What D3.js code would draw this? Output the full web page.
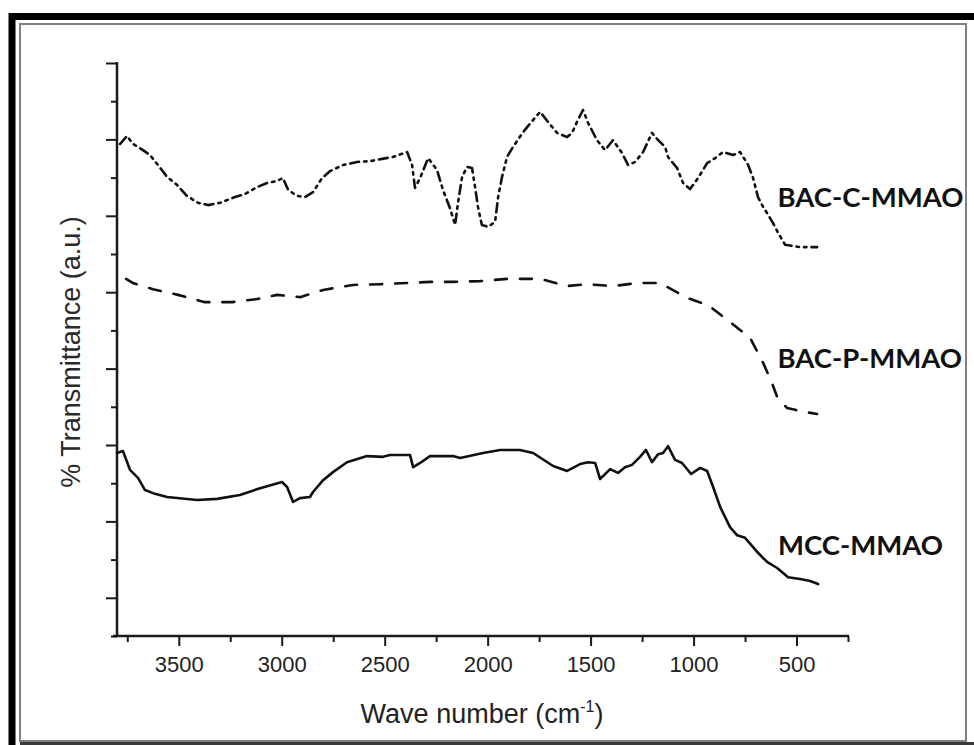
<!DOCTYPE html>
<html>
<head>
<meta charset="utf-8">
<script src="https://cdn.jsdelivr.net/npm/d3@7"></script>
<style>
  html, body { margin: 0; padding: 0; background: #fff; }
  svg { display: block; }
</style>
</head>
<body>
<svg id="chart" width="974" height="745"></svg>
<script>
// ---------------- data ----------------
const xMajorTicks = [3500, 3000, 2500, 2000, 1500, 1000, 500];
const xMinorTicks = [3750, 3250, 2750, 2250, 1750, 1250, 750, 250];
const yMajorTicks = [10, 30, 50, 70, 90, 110, 130, 150];
const yMinorTicks = [0, 20, 40, 60, 80, 100, 120, 140];

const seriesNames = ["BAC-C-MMAO", "BAC-P-MMAO", "MCC-MMAO"];

// wave numbers (cm^-1) and transmittance (a.u.)
const bacC_wn = [3785,3751,3722,3674,3640,3601,3557,3509,3460,3407,3358,3300,3227,3178,3120,3071,3023,2994,2969,2926,2887,2848,2804,2765,2702,2634,2571,2513,2460,2391,2367,2353,2328,2289,2246,2217,2183,2158,2144,2124,2100,2076,2061,2047,2028,1998,1964,1949,1930,1906,1877,1828,1779,1745,1707,1663,1614,1590,1566,1537,1512,1469,1430,1391,1347,1318,1284,1245,1202,1172,1138,1124,1080,1051,1017,978,934,895,857,808,774,735,711,687,667,643,614,589,555,483,400];
const bacC_t  = [128.8,130.9,128.8,127.2,125.9,123.3,120.2,118.1,115.2,113.4,112.8,113.4,114.9,115.7,117.5,118.6,119.1,119.9,116.8,115.2,114.9,116.2,119.9,121.7,123.3,124.1,124.3,124.9,125.4,126.7,123.3,117.3,119.9,125.1,122.0,116.8,112.0,107.6,113.4,120.2,122.8,122.5,117.5,112.3,107.6,107.1,108.4,114.9,120.2,125.4,128.0,131.9,135.1,137.2,134.6,131.7,130.6,131.7,134.6,137.7,134.3,129.8,127.2,129.8,126.4,123.3,124.1,126.7,131.7,129.8,128.0,125.4,122.5,118.6,117.0,119.9,123.8,125.1,126.7,125.9,126.7,123.3,119.9,114.9,112.8,110.7,108.1,105.5,102.4,101.8,101.8];

const bacP_wn = [3756,3722,3625,3504,3373,3241,3120,3023,2911,2799,2654,2523,2391,2280,2168,2037,1906,1745,1614,1517,1391,1274,1163,1129,1032,929,823,725,662,619,594,546,483,400];
const bacP_t  = [93.5,92.4,90.8,89.3,87.4,87.4,88.2,89.3,88.7,90.6,91.9,92.1,92.4,92.7,92.7,92.9,93.5,93.5,91.6,92.1,91.6,92.4,92.4,91.4,88.5,86.6,82.2,78.0,71.5,66.2,62.6,59.7,58.9,58.1];

const mcc_wn = [3800,3771,3737,3698,3664,3625,3557,3411,3314,3203,3105,2999,2974,2945,2911,2863,2848,2799,2751,2683,2586,2508,2474,2377,2362,2328,2280,2168,2134,2022,1940,1843,1779,1682,1614,1551,1512,1478,1454,1405,1367,1333,1299,1260,1231,1202,1172,1148,1124,1090,1056,1012,968,934,905,871,823,789,750,691,643,594,541,483,434,395];
const mcc_t  = [47.9,48.4,43.5,41.4,38.2,37.4,36.4,35.6,35.9,36.9,38.7,40.3,39.0,35.1,36.1,36.4,37.7,40.8,42.9,45.5,47.1,46.9,47.4,47.4,44.2,45.3,47.1,47.1,46.6,47.9,48.7,48.7,47.9,44.5,43.2,45.0,45.5,45.3,41.1,43.7,42.7,44.2,44.8,46.9,48.7,45.5,47.6,47.9,49.7,46.1,45.3,42.4,44.0,43.2,39.0,33.8,28.5,26.4,25.7,22.0,19.4,17.8,15.4,14.9,14.4,13.6];

// label anchor values (wave number, transmittance)
const labelWn = [592, 592, 590];
const labelT  = [112.3, 70.2, 21.2];

// ---------------- drawing ----------------
const svg = d3.select("#chart");

// frame
svg.append("rect").attr("x", 12).attr("y", 16.5).attr("width", 990).attr("height", 760)
  .attr("fill", "none").attr("stroke", "#000").attr("stroke-width", 7);
svg.append("rect").attr("x", 20).attr("y", 24).attr("width", 946).attr("height", 717)
  .attr("fill", "#fff").attr("stroke", "#808080").attr("stroke-width", 2);
svg.append("line").attr("x1", 20).attr("x2", 974).attr("y1", 743.5).attr("y2", 743.5)
  .attr("stroke", "#3a3a3a").attr("stroke-width", 3);

const x = d3.scaleLinear().domain([3800, 250]).range([117, 848]);
const y = d3.scaleLinear().domain([0, 150]).range([636, 63]);

const axisColor = "#1a1a1a";

// x axis (major with labels)
const gx = svg.append("g").attr("transform", "translate(0,636)");
gx.call(d3.axisBottom(x).tickValues(xMajorTicks).tickSize(10).tickSizeOuter(0).tickPadding(10).tickFormat(d3.format("d")));
gx.select(".domain").remove();
gx.selectAll(".tick line").attr("stroke", axisColor).attr("stroke-width", 2);
gx.selectAll(".tick text").attr("font-family", "Liberation Sans, Arial, sans-serif")
  .attr("font-size", 22).attr("fill", "#222");
const gxm = svg.append("g").attr("transform", "translate(0,636)");
gxm.call(d3.axisBottom(x).tickValues(xMinorTicks).tickSize(6).tickSizeOuter(0).tickFormat(""));
gxm.select(".domain").remove();
gxm.selectAll(".tick line").attr("stroke", axisColor).attr("stroke-width", 2);

// y axis
const gy = svg.append("g").attr("transform", "translate(117,0)");
gy.call(d3.axisLeft(y).tickValues(yMajorTicks).tickSize(11).tickSizeOuter(0).tickFormat(""));
gy.select(".domain").remove();
gy.selectAll(".tick line").attr("stroke", axisColor).attr("stroke-width", 2);
const gym = svg.append("g").attr("transform", "translate(117,0)");
gym.call(d3.axisLeft(y).tickValues(yMinorTicks).tickSize(6).tickSizeOuter(0).tickFormat(""));
gym.select(".domain").remove();
gym.selectAll(".tick line").attr("stroke", axisColor).attr("stroke-width", 2);

// axis lines
svg.append("line").attr("x1", 117).attr("x2", 117).attr("y1", y(150) - 1).attr("y2", y(0) + 1)
  .attr("stroke", axisColor).attr("stroke-width", 2.5);
svg.append("line").attr("x1", 113).attr("x2", x(250) + 1).attr("y1", 636).attr("y2", 636)
  .attr("stroke", axisColor).attr("stroke-width", 2.5);

// curves
const line = d3.line().x(d => x(d[0])).y(d => y(d[1]));
const series = [
  { wn: bacC_wn, t: bacC_t, dash: "9,5,2.5,5,2.5,5" },
  { wn: bacP_wn, t: bacP_t, dash: "12,13" },
  { wn: mcc_wn,  t: mcc_t,  dash: null }
];
series.forEach(s => {
  const pts = s.wn.map((w, i) => [w, s.t[i]]);
  const p = svg.append("path").attr("d", line(pts)).attr("fill", "none")
    .attr("stroke", "#111").attr("stroke-width", 2.6)
    .attr("stroke-linejoin", "round").attr("stroke-linecap", "round");
  if (s.dash) p.attr("stroke-dasharray", s.dash);
});

// series labels
seriesNames.forEach((n, i) => {
  svg.append("text").attr("x", x(labelWn[i])).attr("y", y(labelT[i]))
    .attr("font-family", "Lato, 'Open Sans', sans-serif").attr("font-weight", 700)
    .attr("font-size", 27.5).attr("fill", "#111").text(n);
});

// axis titles
const xt = svg.append("text").attr("x", 482).attr("y", 723).attr("text-anchor", "middle")
  .attr("font-family", "Liberation Sans, Arial, sans-serif").attr("font-size", 27).attr("fill", "#222");
xt.append("tspan").text("Wave number (cm");
xt.append("tspan").attr("font-size", 16).attr("dy", -11).text("-1");
xt.append("tspan").attr("dy", 11).text(")");

svg.append("text").attr("transform", "translate(80,352) rotate(-90)").attr("text-anchor", "middle")
  .attr("font-family", "Liberation Sans, Arial, sans-serif").attr("font-size", 27).attr("fill", "#2a2a2a")
  .text("% Transmittance (a.u.)");
</script>
</body>
</html>
